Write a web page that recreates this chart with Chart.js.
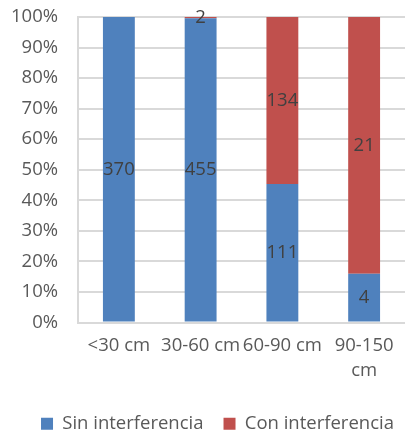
<!DOCTYPE html>
<meta charset="utf-8">
<title>Interferencia por distancia</title>
<script src="https://cdn.jsdelivr.net/npm/chart.js@4/dist/chart.umd.min.js"></script>
<style>
html, body { margin: 0; padding: 0; background: #fff; }
.wrap { width: 405px; height: 436px; }
</style>
<div class="wrap"><canvas id="c" width="405" height="436"></canvas></div>
<script>
const categories = ['<30 cm', '30-60 cm', '60-90 cm', ['90-150', 'cm']];
const sinInterferencia = [370, 455, 111, 4];
const conInterferencia = [0, 2, 134, 21];
const yTicks = [0, 10, 20, 30, 40, 50, 60, 70, 80, 90, 100];

const totals = sinInterferencia.map((v, i) => v + conInterferencia[i]);
const pct = arr => arr.map((v, i) => v / totals[i] * 100);

const FONT = "'Open Sans', 'DejaVu Sans', sans-serif";

// counts written in the middle of each stacked segment
const segmentLabels = {
	id: 'segmentLabels',
	afterDatasetsDraw(chart) {
		const ctx = chart.ctx;
		ctx.save();
		ctx.font = '18.5px ' + FONT;
		ctx.fillStyle = '#404040';
		ctx.textAlign = 'center';
		ctx.textBaseline = 'middle';
		chart.data.datasets.forEach((ds, di) => {
			chart.getDatasetMeta(di).data.forEach((bar, i) => {
				const n = ds.counts[i];
				if (!n) return;
				const y = (bar.y + bar.base) / 2;
				ctx.fillText(String(n), bar.x, y);
			});
		});
		ctx.restore();
	}
};

// legend sits a little right of centre, under the plot area
const legendShift = {
	id: 'legendShift',
	afterLayout(chart) {
		chart.legend.left += 15;
		chart.legend.right += 15;
	}
};

new Chart(document.getElementById('c'), {
	type: 'bar',
	data: {
		labels: categories,
		datasets: [
			{
				label: 'Sin interferencia',
				data: pct(sinInterferencia),
				counts: sinInterferencia,
				backgroundColor: '#4f81bd',
				borderWidth: 0,
			},
			{
				label: 'Con interferencia',
				data: pct(conInterferencia),
				counts: conInterferencia,
				backgroundColor: '#c0504d',
				borderWidth: 0,
			}
		]
	},
	options: {
		responsive: false,
		animation: false,
		layout: { padding: { top: 0, right: 0, left: 0, bottom: -7 } },
		datasets: { bar: { categoryPercentage: 1, barPercentage: 0.39 } },
		plugins: {
			tooltip: { enabled: false },
			legend: {
				position: 'bottom',
				labels: {
					boxWidth: 12,
					boxHeight: 12,
					padding: 20,
					color: '#595959',
					font: { family: FONT, size: 18.5 },
				}
			}
		},
		scales: {
			x: {
				stacked: true,
				grid: { display: false, drawTicks: false },
				border: { color: '#d9d9d9', width: 2 },
				ticks: {
					color: '#595959',
					font: { family: FONT, size: 18.5, lineHeight: 1.35 },
					padding: 11,
					maxRotation: 0,
					autoSkip: false,
				}
			},
			y: {
				stacked: true,
				min: 0,
				max: 100,
				afterFit: s => { s.width = 78; s.paddingTop = 17; },
				afterBuildTicks: s => { s.ticks = yTicks.map(v => ({ value: v })); },
				grid: { color: '#d9d9d9', lineWidth: 2, drawTicks: false },
				border: { color: '#d9d9d9', width: 2 },
				ticks: {
					color: '#595959',
					font: { family: FONT, size: 18.5 },
					padding: 20,
					callback: v => v + '%',
				}
			}
		}
	},
	plugins: [segmentLabels, legendShift]
});
</script>
